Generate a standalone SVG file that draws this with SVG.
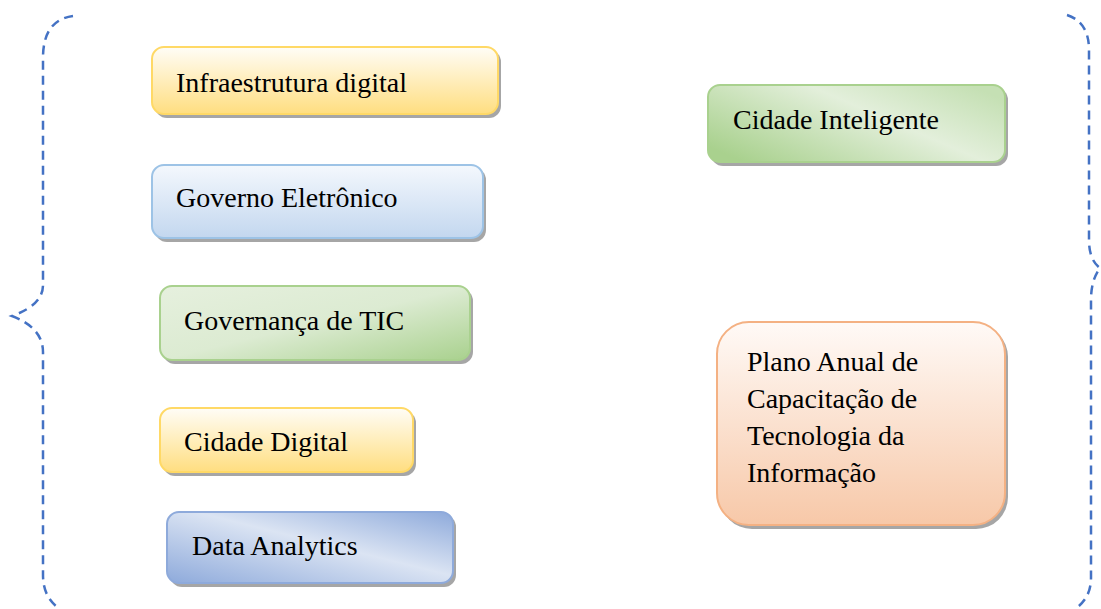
<svg xmlns="http://www.w3.org/2000/svg" width="1101" height="609" viewBox="0 0 1101 609">
<style>
.t{font-family:"Times New Roman","Liberation Serif",serif;font-size:28px;fill:#000}
.sh{fill:#a6a6a6}
.br{fill:none;stroke:#4472c4;stroke-width:2.5;stroke-dasharray:9 6}
</style>
<defs>
<linearGradient id="gy" x1="0" y1="0" x2="0" y2="1"><stop offset="0" stop-color="#fffdf7"/><stop offset="1" stop-color="#ffde80"/></linearGradient>
<linearGradient id="gb" x1="0" y1="0" x2="0" y2="1"><stop offset="0" stop-color="#f4f8fd"/><stop offset="1" stop-color="#c3d7ef"/></linearGradient>
<linearGradient id="gg" x1="0" y1="0" x2="1" y2="1"><stop offset="0" stop-color="#e6f0de"/><stop offset="0.5" stop-color="#dcebd2"/><stop offset="1" stop-color="#a9d18e"/></linearGradient>
<linearGradient id="gg2" x1="0" y1="0.8" x2="1" y2="0.2"><stop offset="0" stop-color="#a9d18e"/><stop offset="0.6" stop-color="#e3efdb"/><stop offset="1" stop-color="#c5e0b4"/></linearGradient>
<linearGradient id="gd" x1="0" y1="1" x2="1" y2="0"><stop offset="0" stop-color="#8eaadb"/><stop offset="0.55" stop-color="#dbe4f3"/><stop offset="1" stop-color="#8eaadb"/></linearGradient>
<linearGradient id="go" x1="0" y1="0" x2="0" y2="1"><stop offset="0" stop-color="#fffaf7"/><stop offset="1" stop-color="#f7c8a8"/></linearGradient>
</defs>
<g id="connectors">
<path class="br" d="M73,16 Q43,20 43,58 L43,285 Q43,305 12,316 Q43,328 43,352 L43,575 Q43,598 60,609"/>
<path class="br" d="M1067,15 Q1089,22 1089,50 L1089,240 Q1089,260 1100,268 Q1091,280 1091,300 L1091,578 Q1091,598 1075,609"/>
</g>
<g id="n1">
<rect class="sh" x="155" y="50" width="346" height="68" rx="12"/>
<rect x="152" y="47" width="346" height="67" rx="12" fill="url(#gy)" stroke="#ffd966" stroke-width="2"/>
<text class="t" x="176" y="92">Infraestrutura digital</text>
</g>
<g id="n2">
<rect class="sh" x="155" y="168" width="331" height="74" rx="12"/>
<rect x="152" y="165" width="331" height="73" rx="12" fill="url(#gb)" stroke="#9dc3e6" stroke-width="2"/>
<text class="t" x="176" y="207">Governo Eletrônico</text>
</g>
<g id="n3">
<rect class="sh" x="163" y="289" width="310" height="75" rx="12"/>
<rect x="160" y="286" width="310" height="74" rx="12" fill="url(#gg)" stroke="#a9d18e" stroke-width="2"/>
<text class="t" x="184" y="330">Governança de TIC</text>
</g>
<g id="n4">
<rect class="sh" x="163" y="411" width="253" height="65" rx="12"/>
<rect x="160" y="408" width="253" height="64" rx="12" fill="url(#gy)" stroke="#ffd966" stroke-width="2"/>
<text class="t" x="184" y="451">Cidade Digital</text>
</g>
<g id="n5">
<rect class="sh" x="170" y="515" width="286" height="72" rx="12"/>
<rect x="167" y="512" width="286" height="71" rx="12" fill="url(#gd)" stroke="#8eaadb" stroke-width="2"/>
<text class="t" x="192" y="555">Data Analytics</text>
</g>
<g id="n6">
<rect class="sh" x="711" y="88" width="297" height="78" rx="12"/>
<rect x="708" y="85" width="297" height="77" rx="12" fill="url(#gg2)" stroke="#a9d18e" stroke-width="2"/>
<text class="t" x="733" y="129">Cidade Inteligente</text>
</g>
<g id="n7">
<rect class="sh" x="720" y="325" width="288" height="204" rx="32"/>
<rect x="717" y="322" width="288" height="203" rx="32" fill="url(#go)" stroke="#f4b183" stroke-width="2"/>
<text class="t" x="747" y="371">Plano Anual de</text>
<text class="t" x="747" y="408">Capacitação de</text>
<text class="t" x="747" y="445">Tecnologia da</text>
<text class="t" x="747" y="482">Informação</text>
</g>
</svg>
